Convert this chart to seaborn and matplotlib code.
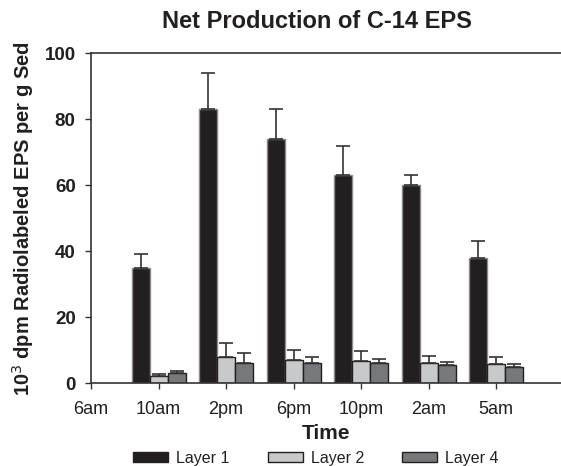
import numpy as np
import pandas as pd
import matplotlib
matplotlib.use("Agg")
import matplotlib.pyplot as plt
import seaborn as sns

# ---------------------------------------------------------------------------
# DATA
# ---------------------------------------------------------------------------
TIMES = ["6am", "10am", "2pm", "6pm", "10pm", "2am", "5am"]
SAMPLED = ["10am", "2pm", "6pm", "10pm", "2am", "5am"]
LAYERS = ["Layer 1", "Layer 2", "Layer 4"]

layer1 = [35.0, 83.0, 74.0, 63.0, 60.0, 38.0]
layer1_err = [4.0, 11.0, 9.0, 9.0, 3.0, 5.0]
layer2 = [2.0, 8.0, 7.0, 6.6, 6.2, 5.9]
layer2_err = [0.6, 4.0, 3.0, 3.0, 2.0, 2.1]
layer4 = [3.0, 6.0, 6.0, 6.2, 5.6, 5.0]
layer4_err = [0.8, 3.0, 2.0, 1.0, 0.9, 0.9]

COLORS = ["#231f20", "#c8c9ca", "#77787b"]
EDGES = ["#8a8a8a", "#231f20", "#231f20"]

# ---------------------------------------------------------------------------
# PLOT
# ---------------------------------------------------------------------------
df = pd.DataFrame({
    "time": SAMPLED * 3,
    "layer": np.repeat(LAYERS, len(SAMPLED)),
    "value": layer1 + layer2 + layer4,
    "err": layer1_err + layer2_err + layer4_err,
})

sns.set_style("white")
plt.rcParams["font.family"] = ["Liberation Sans", "DejaVu Sans"]
plt.rcParams["text.color"] = "#231f20"
plt.rcParams["axes.labelcolor"] = "#231f20"
plt.rcParams["xtick.color"] = "#231f20"
plt.rcParams["ytick.color"] = "#231f20"

fig = plt.figure(figsize=(5.61, 4.66), dpi=100)
ax = fig.add_axes([0.1622, 0.178, 0.838, 0.708])

sns.barplot(data=df, x="time", y="value", hue="layer", order=TIMES,
            hue_order=LAYERS, palette=COLORS, width=0.8, errorbar=None,
            linewidth=1.0, saturation=1, legend=False, ax=ax)

# outline colours + one-sided (upper) error bars on each bar
for i, layer in enumerate(LAYERS):
    cont = ax.containers[i]
    sub = df[df["layer"] == layer].set_index("time")
    xs, ys, es = [], [], []
    for patch in cont.patches:
        patch.set_edgecolor(EDGES[i])
    for patch, t in zip(cont.patches, [t for t in TIMES if t in SAMPLED]):
        if np.isnan(patch.get_height()):
            continue
        xs.append(patch.get_x() + patch.get_width() / 2)
        ys.append(sub.loc[t, "value"])
        es.append(sub.loc[t, "err"])
    ax.errorbar(xs, ys, yerr=[np.zeros(len(es)), es], fmt="none",
                ecolor="#333333", elinewidth=1.2, capsize=5, capthick=1.2,
                zorder=1)

ax.set_xlim(0, 6.96)
ax.set_ylim(0, 100)
ax.set_yticks(range(0, 101, 20))
ax.set_xticks(range(len(TIMES)))
ax.set_xticklabels(TIMES, fontsize=13)
for lab in ax.get_yticklabels():
    lab.set_fontsize(13.5)
    lab.set_fontweight("bold")

ax.tick_params(axis="x", direction="out", length=4, width=1,
               color="#333333", bottom=True, pad=9)
ax.tick_params(axis="y", direction="out", length=4, width=1,
               color="#333333", left=True, pad=7)
for side in ["left", "bottom", "top"]:
    ax.spines[side].set_color("#333333")
    ax.spines[side].set_linewidth(1.2)
ax.spines["right"].set_visible(False)

ax.set_xlabel("Time", fontsize=15, fontweight="bold", labelpad=4)
ax.set_ylabel("10$^3$ dpm Radiolabeled EPS per g Sed", fontsize=14.5,
              fontweight="bold", labelpad=6)
fig.text(0.565, 0.953, "Net Production of C-14 EPS", ha="center",
         va="center", fontsize=17, fontweight="bold")

handles = [plt.Rectangle((0, 0), 1, 1, facecolor=c, edgecolor="#231f20",
                         linewidth=1) for c in COLORS]
fig.legend(handles, LAYERS, loc="center", bbox_to_anchor=(0.563, 0.017),
           ncol=3, frameon=False, fontsize=11.5, handlelength=2.2,
           handleheight=0.6, columnspacing=2.4, handletextpad=0.5)

fig.savefig("out.png", dpi=100)
